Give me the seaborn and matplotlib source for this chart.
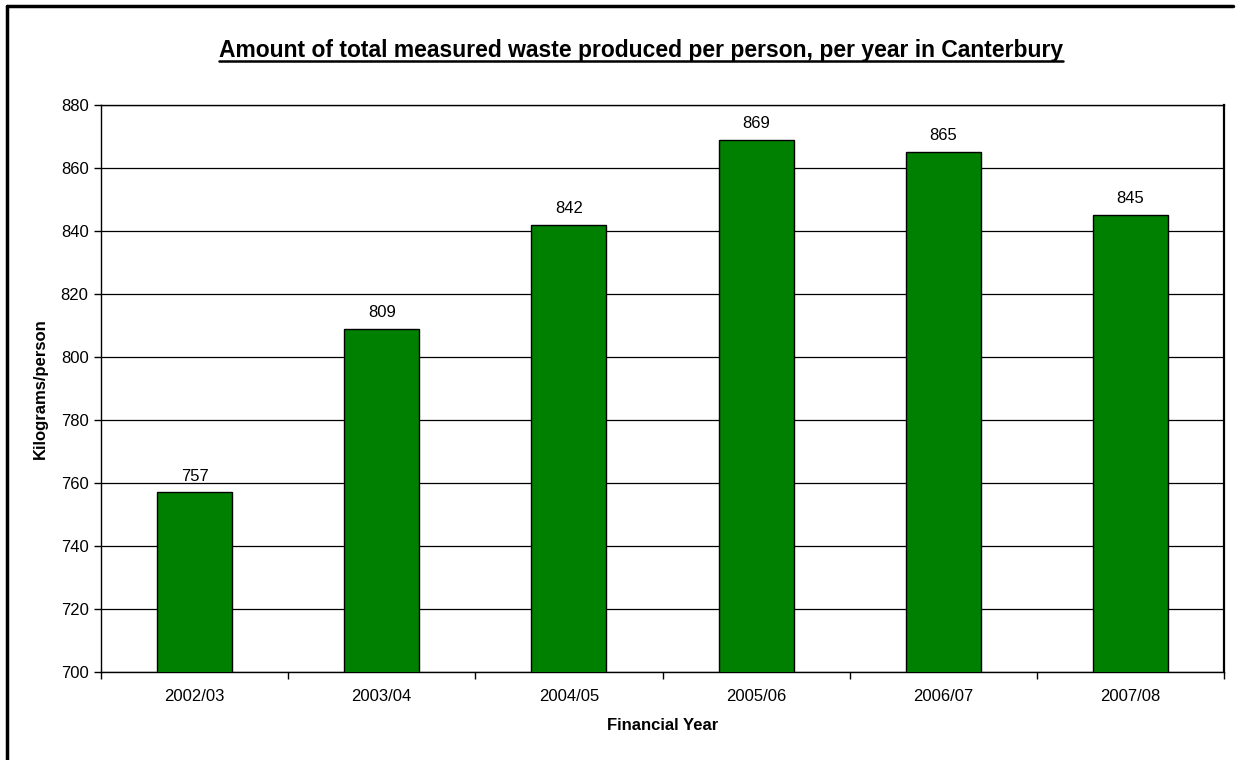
import matplotlib
matplotlib.use("Agg")
import matplotlib.pyplot as plt
import seaborn as sns
import pandas as pd
from matplotlib.lines import Line2D

years = ["2002/03", "2003/04", "2004/05", "2005/06", "2006/07", "2007/08"]
waste = [757, 809, 842, 869, 865, 845]
yticks = list(range(700, 881, 20))

sns.set_theme(style="white")
plt.rcParams['font.family'] = ['Liberation Sans', 'DejaVu Sans']
plt.rcParams['text.color'] = 'black'
plt.rcParams['axes.labelcolor'] = 'black'
plt.rcParams['xtick.color'] = 'black'
plt.rcParams['ytick.color'] = 'black'

df = pd.DataFrame({"year": years, "kg": waste})

fig = plt.figure(figsize=(12.43, 7.6), dpi=100)
W, H = 1243, 760
ax = fig.add_axes([101 / W, 1 - 672 / H, (1224 - 101) / W, (672 - 105) / H])

sns.barplot(data=df, x="year", y="kg", color="#008000", saturation=1,
            width=0.4, edgecolor="black", linewidth=1.0, ax=ax, zorder=3)

ax.set_ylim(700, 880)
ax.set_yticks(yticks)
ax.set_xlim(-0.5, len(years) - 0.5)
ax.yaxis.grid(True, color="black", linewidth=0.9)
ax.set_axisbelow(True)
for s in ax.spines.values():
    s.set_visible(True)
    s.set_color("black")
    s.set_linewidth(1.0)
ax.spines["right"].set_linewidth(1.6)

ax.tick_params(axis="y", which="major", direction="out", length=5, width=1,
               color="black", labelsize=12, pad=4, left=True)
ax.set_xticks(range(len(years)))
ax.set_xticklabels(years)
ax.tick_params(axis="x", which="major", length=0, labelsize=12, pad=12)
ax.set_xticks([i + 0.5 for i in range(-1, len(years))], minor=True)
ax.tick_params(axis="x", which="minor", direction="out", length=5, width=1,
               color="black", bottom=True)

for i, v in enumerate(waste):
    ax.text(i, v + 2.8, str(v), ha="center", va="bottom", fontsize=12, color="black")

ax.set_xlabel("Financial Year", fontsize=12, fontweight="bold", labelpad=10)
ax.set_ylabel("Kilograms/person", fontsize=12, fontweight="bold", labelpad=9)

title = fig.text(641 / W, 1 - 50 / H,
                 "Amount of total measured waste produced per person, per year in Canterbury",
                 ha="center", va="center", fontsize=16.5, fontweight="bold")
fig.canvas.draw()
bb = title.get_window_extent(renderer=fig.canvas.get_renderer())
fig.add_artist(Line2D([bb.x0 / W, bb.x1 / W], [1 - 61 / H, 1 - 61 / H],
                      color="black", linewidth=1.8, transform=fig.transFigure))

# figure border (top and left visible)
fig.add_artist(Line2D([7 / W, 1233 / W], [1 - 6 / H, 1 - 6 / H],
                      color="black", linewidth=2.5, transform=fig.transFigure))
fig.add_artist(Line2D([7 / W, 7 / W], [1 - 6 / H, 0], color="black",
                      linewidth=2.5, transform=fig.transFigure))

fig.savefig("out.png", dpi=100, facecolor="white")
